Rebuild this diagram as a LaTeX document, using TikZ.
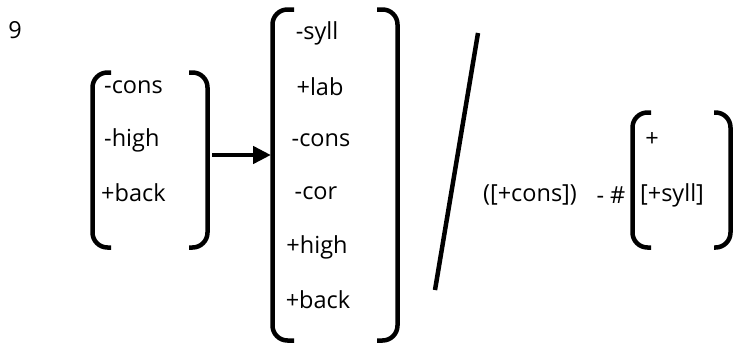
\documentclass[tikz,border=0pt]{standalone}
\usepackage{fontspec}
\setmainfont{Open Sans}
\usetikzlibrary{arrows.meta}
\begin{document}
\begin{tikzpicture}[x=1pt,y=-1pt,
  every node/.style={inner sep=0pt, font=\fontsize{23.5}{28}\selectfont},
  brk/.style={line width=4.5pt, rounded corners=15pt},
  thick line/.style={line width=4.5pt}]
\useasboundingbox (0,0) rectangle (733,348);
% label
\node (num) at (15,30) {9};
% first matrix
\node[anchor=west] (a1) at (104,87) {-cons};
\node[anchor=west] (a2) at (104,140) {-high};
\node[anchor=west] (a3) at (101,193) {+back};
\draw[brk] (111,72.5) -- (92.5,72.5) -- (92.5,247.5) -- (111,247.5);
\draw[brk] (189,72.5) -- (207.5,72.5) -- (207.5,247.5) -- (189,247.5);
% arrow
\coordinate (arS) at (212,155);
\coordinate (arE) at (271,155);
\draw[thick line, -{Triangle[length=18pt,width=17pt]}] (arS) -- (arE);
% second matrix
\node (b1) at (317,33) {-syll};
\node (b2) at (320,87) {+lab};
\node (b3) at (321,140) {-cons};
\node (b4) at (316,193) {-cor};
\node (b5) at (317,247) {+high};
\node (b6) at (318,300) {+back};
\draw[brk] (294,9.5) -- (272.5,9.5) -- (272.5,340.5) -- (294,340.5);
\draw[brk] (377,9.5) -- (397.5,9.5) -- (397.5,340.5) -- (377,340.5);
% slash
\coordinate (sT) at (478,33);
\coordinate (sB) at (435,290);
\draw[thick line] (sT) -- (sB);
% environment
\node (c1) at (530,195) {([+cons])};
\node (c2) at (611,195) {- \#};
\node (d1) at (652,140) {+};
\node (d2) at (672,195) {[+syll]};
\draw[brk] (651,112.5) -- (632.5,112.5) -- (632.5,247.5) -- (651,247.5);
\draw[brk] (714,112.5) -- (730.5,112.5) -- (730.5,247.5) -- (714,247.5);
\end{tikzpicture}
\end{document}
